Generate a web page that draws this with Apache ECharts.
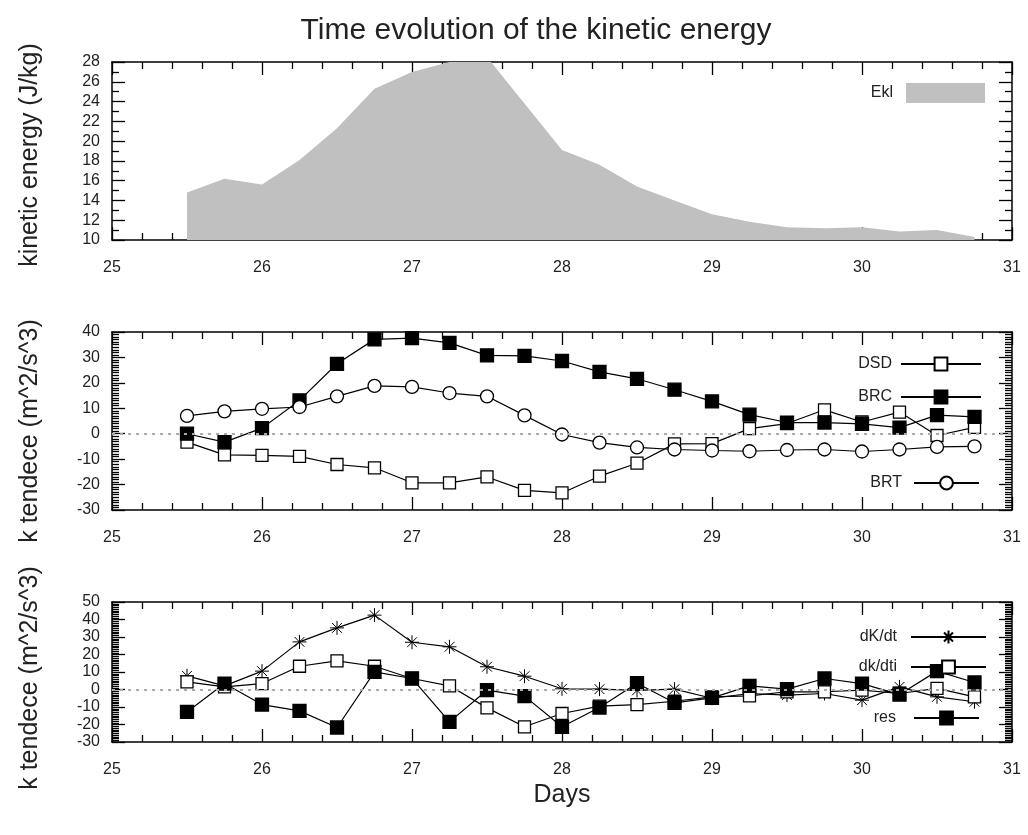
<!DOCTYPE html>
<html lang="en">
<head>
    <meta charset="UTF-8">
    <title>Time evolution of the kinetic energy</title>
    <script src="https://cdn.jsdelivr.net/npm/echarts@6/dist/echarts.min.js"></script>
    <style>
        * { margin: 0; padding: 0; }
        body { background: #fff; }
        #chart { width: 1028px; height: 835px; }
    </style>
</head>
<body>
<div id="chart"></div>
<script>
    // time axis (days)
    var days = [25.5, 25.75, 26, 26.25, 26.5, 26.75, 27, 27.25, 27.5, 27.75, 28,
        28.25, 28.5, 28.75, 29, 29.25, 29.5, 29.75, 30, 30.25, 30.5, 30.75];

    // top panel
    var ekl = [14.8, 16.2, 15.6, 18.1, 21.3, 25.3, 27.0, 28.0, 28.5, 23.8, 19.1,
        17.6, 15.4, 14.0, 12.6, 11.85, 11.3, 11.2, 11.3, 10.85, 11.0, 10.3];

    // middle panel
    var dsd = [-3.3, -8.3, -8.5, -8.9, -12.1, -13.4, -19.3, -19.3, -17.0, -22.3, -23.3,
        -16.7, -11.6, -4.0, -3.9, 2.0, 4.0, 9.4, 4.6, 8.5, -0.7, 2.5];
    var brc = [0, -3.3, 2.2, 13.1, 27.5, 37.1, 37.6, 35.7, 30.8, 30.6, 28.6,
        24.3, 21.6, 17.3, 12.7, 7.5, 4.4, 4.4, 3.9, 2.4, 7.3, 6.6];
    var brt = [7.0, 8.8, 9.8, 10.5, 14.7, 18.8, 18.4, 16.0, 14.7, 7.2, -0.3,
        -3.5, -5.4, -6.2, -6.6, -6.9, -6.4, -6.2, -7.0, -6.2, -5.2, -5.0];

    // bottom panel
    var dkdt = [7.8, 2.1, 10.5, 27.2, 35.2, 42.5, 27.0, 24.4, 13.0, 7.6, 0.4,
        0.2, -0.5, 0.2, -5.0, -2.3, -3.2, -2.3, -6.1, 1.5, -4.2, -7.0];
    var dkdti = [4.4, 1.5, 3.4, 13.3, 16.4, 13.3, 6.3, 2.1, -10.5, -21.3, -13.7,
        -9.5, -8.6, -6.7, -4.2, -3.6, -1.3, -1.3, -0.4, -2.3, 0.6, -4.2];
    var res = [-12.8, 3.4, -8.6, -12.2, -21.7, 10.1, 6.3, -18.5, -0.4, -3.8, -21.3,
        -10.3, 3.6, -7.6, -4.8, 2.1, 0.2, 6.3, 3.4, -2.9, 10.5, 4.0];

    var xTicks = [25, 31, 1];

    function pairs(vals) {
        return vals.map(function (v, i) { return [days[i], v]; });
    }

    var font = 'Liberation Sans, Arial, sans-serif';
    var asterisk = 'path://M5,0L5,10M0,5L10,5M1.5,1.5L8.5,8.5M1.5,8.5L8.5,1.5';

    function xAxis(grid, pos, name) {
        return {
            type: 'value', gridIndex: grid, position: pos,
            min: xTicks[0], max: xTicks[1], interval: xTicks[2],
            name: name || '', nameLocation: 'middle', nameGap: 41,
            nameTextStyle: {fontFamily: font, fontSize: 25, color: '#222'},
            axisLine: {show: true, onZero: false, lineStyle: {color: '#000', width: 1.5}},
            axisTick: {show: true, inside: true, length: 13, lineStyle: {color: '#000', width: 1.3}},
            minorTick: {show: true, splitNumber: 5, length: 7, lineStyle: {color: '#000', width: 1.3}},
            axisLabel: {show: pos === 'bottom', margin: 20, fontFamily: font, fontSize: 16, color: '#222'},
            splitLine: {show: false}
        };
    }

    // shift moves the rotated axis name down the page
    function yAxis(grid, pos, min, max, interval, minor, name, shift) {
        return {
            type: 'value', gridIndex: grid, position: pos,
            min: min, max: max, interval: interval,
            name: name || '', nameLocation: 'middle', nameGap: 69,
            nameTextStyle: {fontFamily: font, fontSize: 25, color: '#222', padding: [0, 2 * (shift || 0), 0, 0]},
            axisLine: {show: true, onZero: false, lineStyle: {color: '#000', width: 1.5}},
            axisTick: {show: true, inside: true, length: 13, lineStyle: {color: '#000', width: 1.3}},
            minorTick: {show: true, splitNumber: minor, length: 7, lineStyle: {color: '#000', width: 1.3}},
            axisLabel: {show: pos === 'left', margin: 12, fontFamily: font, fontSize: 16, color: '#222'},
            splitLine: {show: false}
        };
    }

    function lineSeries(name, grid, vals, symbol, filled, size) {
        return {
            name: name, type: 'line',
            xAxisIndex: grid * 2, yAxisIndex: grid * 2,
            data: pairs(vals),
            symbol: symbol, symbolSize: size, showAllSymbol: true,
            lineStyle: {color: '#000', width: 1.2},
            itemStyle: {color: filled ? '#000' : '#fff', borderColor: '#000', borderWidth: 1.3},
            emphasis: {disabled: true}
        };
    }

    var zeroLine = {
        silent: true, symbol: 'none', label: {show: false},
        lineStyle: {color: '#aaa', type: [3, 5], width: 2},
        data: [{yAxis: 0}]
    };

    function legendText(pad) {
        return {fontFamily: font, fontSize: 16, color: '#222', padding: [0, pad, 0, 0]};
    }

    var chart = echarts.init(document.getElementById('chart'), null, {renderer: 'canvas'});

    var sDsd = lineSeries('DSD', 1, dsd, 'rect', false, 12);
    sDsd.markLine = zeroLine;
    var sDkdt = lineSeries('dK/dt', 2, dkdt, asterisk, true, 14);
    sDkdt.itemStyle.borderWidth = 1;
    sDkdt.markLine = zeroLine;

    chart.setOption({
        animation: false,
        title: {
            text: 'Time evolution of the kinetic energy',
            left: 531, top: 11, textAlign: 'center',
            textStyle: {fontFamily: font, fontSize: 30, fontWeight: 'normal', color: '#222'}
        },
        grid: [
            {left: 112, top: 62, width: 900, height: 178},
            {left: 112, top: 332, width: 900, height: 178},
            {left: 112, top: 602, width: 900, height: 140}
        ],
        xAxis: [
            xAxis(0, 'bottom'), xAxis(0, 'top'),
            xAxis(1, 'bottom'), xAxis(1, 'top'),
            xAxis(2, 'bottom', 'Days'), xAxis(2, 'top')
        ],
        yAxis: [
            yAxis(0, 'left', 10, 28, 2, 2, 'kinetic energy (J/kg)', 4), yAxis(0, 'right', 10, 28, 2, 2),
            yAxis(1, 'left', -30, 40, 10, 10, 'k tendece (m^2/s^3)', 10), yAxis(1, 'right', -30, 40, 10, 10),
            yAxis(2, 'left', -30, 50, 10, 10, 'k tendece (m^2/s^3)', 6), yAxis(2, 'right', -30, 50, 10, 10)
        ],
        legend: [
            {data: [{name: 'Ekl', icon: 'rect'}], right: 43, top: 83, align: 'right', padding: 0,
                itemWidth: 79, itemHeight: 20, textStyle: legendText(8)},
            {data: ['DSD', 'BRC'], orient: 'vertical', right: 46, top: 356, align: 'right', padding: 0,
                itemWidth: 80, itemHeight: 16, itemGap: 17, textStyle: legendText(4)},
            {data: ['BRT'], right: 48, top: 475, align: 'right', padding: 0,
                itemWidth: 65, itemHeight: 16, textStyle: legendText(7)},
            {data: ['dK/dt', 'dk/dti'], orient: 'vertical', right: 41, top: 629, align: 'right', padding: 0,
                itemWidth: 75, itemHeight: 16, itemGap: 14, textStyle: legendText(9)},
            {data: ['res'], right: 48, top: 710, align: 'right', padding: 0,
                itemWidth: 65, itemHeight: 16, textStyle: legendText(13)}
        ],
        series: [
            {
                name: 'Ekl', type: 'line', xAxisIndex: 0, yAxisIndex: 0,
                data: pairs(ekl), symbol: 'none', clip: true,
                color: '#c0c0c0',
                lineStyle: {width: 0, color: '#c0c0c0'},
                areaStyle: {color: '#c0c0c0', opacity: 1, origin: 'start'},
                emphasis: {disabled: true}
            },
            sDsd,
            lineSeries('BRC', 1, brc, 'rect', true, 13),
            lineSeries('BRT', 1, brt, 'circle', false, 13),
            sDkdt,
            lineSeries('dk/dti', 2, dkdti, 'rect', false, 12),
            lineSeries('res', 2, res, 'rect', true, 13)
        ]
    });
</script>
</body>
</html>
